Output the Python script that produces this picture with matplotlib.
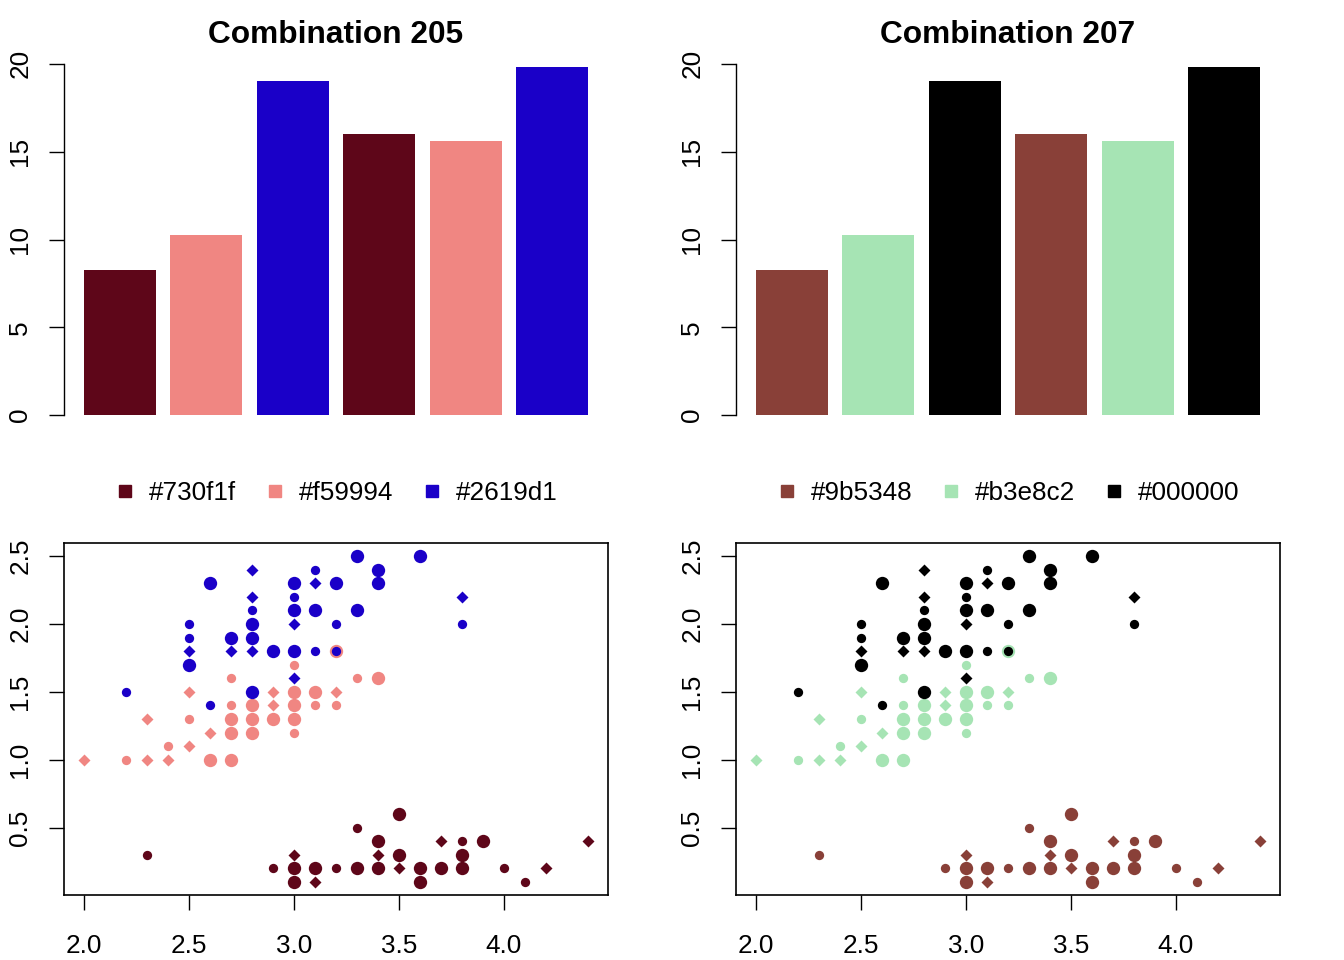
import matplotlib
matplotlib.use("Agg")
import matplotlib.pyplot as plt
from matplotlib.lines import Line2D
import numpy as np

plt.rcParams["font.family"] = ["Liberation Sans", "DejaVu Sans"]

# bar heights (same in both panels)
bar_values = [8.26, 10.26, 19.03, 16.01, 15.61, 19.83]

# scatter points per group: x, y and marker kind (B big dot, S small dot, D diamond)
g1_x = [2.3, 2.9, 3.0, 3.0, 3.0, 3.1, 3.1, 3.2, 3.3, 3.3, 3.4, 3.4, 3.4, 3.5,
        3.5, 3.5, 3.6, 3.6, 3.7, 3.7, 3.8, 3.8, 3.8, 3.9, 4.0, 4.1, 4.2, 4.4]
g1_y = [0.3, 0.2, 0.3, 0.2, 0.1, 0.2, 0.1, 0.2, 0.5, 0.2, 0.4, 0.3, 0.2, 0.6,
        0.3, 0.2, 0.2, 0.1, 0.4, 0.2, 0.4, 0.3, 0.2, 0.4, 0.2, 0.1, 0.2, 0.4]
g1_k = list("SSDBBBDSSBBDBBBDBBDBSBBBSSDD")

g2_x = [2.0, 2.2, 2.3, 2.3, 2.4, 2.4, 2.5, 2.5, 2.5, 2.6, 2.6, 2.7, 2.7, 2.7,
        2.7, 2.7, 2.8, 2.8, 2.8, 2.9, 2.9, 2.9, 3.0, 3.0, 3.0, 3.0, 3.0, 3.1,
        3.1, 3.2, 3.2, 3.2, 3.3, 3.4]
g2_y = [1.0, 1.0, 1.0, 1.3, 1.0, 1.1, 1.1, 1.3, 1.5, 1.0, 1.2, 1.0, 1.2, 1.3,
        1.4, 1.6, 1.2, 1.3, 1.4, 1.3, 1.4, 1.5, 1.2, 1.3, 1.4, 1.5, 1.7, 1.4,
        1.5, 1.4, 1.5, 1.8, 1.6, 1.6]
g2_k = list("DSDDDSDSDBDBBBSSBBBBDDSBBBSSBSDBSB")

g3_x = [2.2, 2.5, 2.5, 2.5, 2.5, 2.6, 2.6, 2.7, 2.7, 2.8, 2.8, 2.8, 2.8, 2.8,
        2.8, 2.8, 2.9, 3.0, 3.0, 3.0, 3.0, 3.0, 3.0, 3.1, 3.1, 3.1, 3.1, 3.2,
        3.2, 3.2, 3.3, 3.3, 3.4, 3.4, 3.6, 3.8, 3.8]
g3_y = [1.5, 1.7, 1.8, 1.9, 2.0, 1.4, 2.3, 1.8, 1.9, 1.5, 1.8, 1.9, 2.0, 2.1,
        2.2, 2.4, 1.8, 1.6, 1.8, 2.0, 2.1, 2.2, 2.3, 1.8, 2.1, 2.3, 2.4, 1.8,
        2.0, 2.3, 2.1, 2.5, 2.3, 2.4, 2.5, 2.0, 2.2]
g3_k = list("SBDSSSBDBBDBBSDDBDBDBSBSBDSSSBBBBBBSD")

panels = [
    ("Combination 205", ["#5e0619", "#f08682", "#1a00c8"],
     ["#730f1f", "#f59994", "#2619d1"]),
    ("Combination 207", ["#894038", "#a6e4b4", "#000000"],
     ["#9b5348", "#b3e8c2", "#000000"]),
]

MARKERS = {"B": ("o", 9.6 ** 2), "S": ("o", 6.7 ** 2), "D": ("D", 6.1 ** 2)}
TICK_FS = 18.8
TICK_LEN = 10.8

W, H = 1344, 960
fig = plt.figure(figsize=(W / 100, H / 100), dpi=100)

groups = [(g1_x, g1_y, g1_k), (g2_x, g2_y, g2_k), (g3_x, g3_y, g3_k)]

for col, (title, colors, labels) in enumerate(panels):
    left = (64 + col * 672) / W
    width = 544 / W

    # --- bar chart
    axb = fig.add_axes([left, 1 - 429 / H, width, 376 / H])
    xs = 0.7 + 1.2 * np.arange(len(bar_values))
    axb.bar(xs, bar_values, width=1.0, color=[colors[i % 3] for i in range(6)])
    axb.set_xlim(-0.08, 7.48)
    axb.set_ylim(-0.79, 20.62)
    for s in ("top", "right", "bottom"):
        axb.spines[s].set_visible(False)
    axb.spines["left"].set_bounds(0, 20)
    axb.spines["left"].set_linewidth(1.0)
    axb.set_xticks([])
    axb.set_yticks([0, 5, 10, 15, 20])
    axb.tick_params(axis="y", direction="out", length=TICK_LEN, width=1.0,
                    labelsize=TICK_FS, labelrotation=90, pad=12)
    for t in axb.get_yticklabels():
        t.set_va("center")
    fig.text(left + width / 2, 1 - 35 / H, title, ha="center", va="center",
             fontsize=22.8, fontweight="bold")

    # --- legend
    handles = [Line2D([], [], marker="s", ls="none", color=c, markersize=9)
               for c in colors]
    fig.legend(handles, labels, loc="center", ncol=3, frameon=False,
               bbox_to_anchor=(left + width / 2, 1 - 493 / H),
               fontsize=TICK_FS, handlelength=0.8, handletextpad=0.5,
               columnspacing=1.1, borderpad=0)

    # --- scatter
    axs = fig.add_axes([left, 1 - 895 / H, width, 352 / H])
    for (gx, gy, gk), c in zip(groups, colors):
        for kind, (m, s) in MARKERS.items():
            idx = [i for i, k in enumerate(gk) if k == kind]
            axs.scatter([gx[i] for i in idx], [gy[i] for i in idx], s=s,
                        marker=m, color=c, linewidths=0)
    axs.set_xlim(1.904, 4.496)
    axs.set_ylim(0.004, 2.596)
    axs.set_xticks([2.0, 2.5, 3.0, 3.5, 4.0])
    axs.set_xticklabels(["2.0", "2.5", "3.0", "3.5", "4.0"])
    axs.set_yticks([0.5, 1.0, 1.5, 2.0, 2.5])
    axs.set_yticklabels(["0.5", "1.0", "1.5", "2.0", "2.5"])
    for s in axs.spines.values():
        s.set_linewidth(1.2)
    axs.tick_params(axis="x", direction="out", length=TICK_LEN, width=1.0,
                    labelsize=TICK_FS, pad=17)
    axs.tick_params(axis="y", direction="out", length=TICK_LEN, width=1.0,
                    labelsize=TICK_FS, pad=12, labelrotation=90)
    for t in axs.get_yticklabels():
        t.set_va("center")

fig.savefig("out.png", dpi=100)
